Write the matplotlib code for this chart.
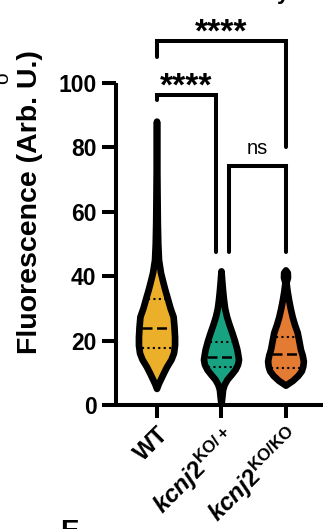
import numpy as np
import matplotlib
matplotlib.use("Agg")
import matplotlib.pyplot as plt
from matplotlib.patches import Polygon

plt.rcParams['font.family'] = ['Liberation Sans', 'DejaVu Sans']
plt.rcParams['mathtext.fontset'] = 'custom'
plt.rcParams['mathtext.it'] = 'Liberation Sans:bold:italic'
plt.rcParams['mathtext.rm'] = 'Liberation Sans:bold'
plt.rcParams['mathtext.bf'] = 'Liberation Sans:bold'

# ---------------- data ----------------
categories = ["WT", r"$\mathit{kcnj2}^{\mathrm{KO/+}}$", r"$\mathit{kcnj2}^{\mathrm{KO/KO}}$"]
colors = ["#EBAF2A", "#17A382", "#E37B33"]

# violin profiles: value levels and relative density (half width)
wt_levels = [5.0, 6.5, 7.8, 9.8, 11.8, 14.0, 16.0, 18.5, 21.0, 24.0, 27.3, 30.0, 33.0, 35.7, 38.5, 41.0, 45.0, 50.0, 56.5, 65.0, 75.0, 88.0]
wt_density = [0.0, 0.10, 0.21, 0.38, 0.56, 0.80, 0.94, 1.00, 1.00, 0.97, 0.92, 0.75, 0.60, 0.46, 0.33, 0.22, 0.11, 0.07, 0.045, 0.03, 0.015, 0.0]

het_levels = [0.0, 2.0, 4.7, 6.3, 7.8, 9.4, 10.9, 12.5, 14.0, 15.5, 17.1, 19.8, 22.4, 24.8, 27.3, 30.0, 32.6, 35.3, 37.9, 41.5]
het_density = [0.0, 0.04, 0.09, 0.18, 0.33, 0.57, 0.78, 0.92, 0.97, 0.93, 0.88, 0.75, 0.60, 0.45, 0.31, 0.20, 0.14, 0.09, 0.05, 0.0]

ko_levels = [6.0, 7.5, 9.0, 10.5, 12.0, 13.5, 15.3, 17.1, 19.8, 22.4, 24.8, 27.3, 30.0, 32.6, 35.3, 37.9, 39.5, 41.0, 41.8]
ko_density = [0.0, 0.39, 0.68, 0.88, 0.96, 0.99, 0.93, 0.83, 0.74, 0.65, 0.50, 0.37, 0.26, 0.17, 0.09, 0.03, 0.11, 0.10, 0.0]

medians = [23.8, 15.0, 15.8]
q1 = [17.6, 11.7, 11.4]
q3 = [32.8, 19.7, 21.0]

yticks = [0, 20, 40, 60, 80, 100]

# significance brackets: (x-left, x-right, y-left-leg-bottom, y-bar, y-right-leg-bottom, label)
brackets = [
    (0.0, 2.0, 108.0, 113.0, 80.0, "****"),
    (0.0, 0.915, 94.7, 96.3, 47.5, "****"),
    (1.116, 2.0, 47.5, 74.2, 47.5, "ns"),
]

# ---------------- figure ----------------
W, H = 323, 529
fig = plt.figure(figsize=(W / 100, H / 100), dpi=100)
ax = fig.add_axes([116 / W, 124 / H, 207 / W, 322 / H])
ax.set_xlim(-0.636, 2.574)
ax.set_ylim(0, 100)

half_max = 0.28
profiles = [(wt_levels, wt_density), (het_levels, het_density), (ko_levels, ko_density)]
for i, (lv, dn) in enumerate(profiles):
    lv = np.asarray(lv)
    dn = np.asarray(dn) * half_max
    xs = np.concatenate([i + dn, (i - dn)[::-1]])
    ys = np.concatenate([lv, lv[::-1]])
    poly = Polygon(np.column_stack([xs, ys]), closed=True, facecolor=colors[i],
                   edgecolor="black", linewidth=4.8, joinstyle="round", zorder=2)
    ax.add_patch(poly)
    # median and quartiles
    for val, style in [(medians[i], "dash"), (q1[i], "dot"), (q3[i], "dot")]:
        hw = np.interp(val, lv, dn) - 0.035
        if style == "dash":
            ax.plot([i - hw, i + hw], [val, val], color="black", lw=1.8,
                    dashes=(4.0, 1.8), zorder=3, dash_capstyle="butt")
        else:
            ax.plot([i - hw, i + hw], [val, val], color="black", lw=1.5,
                    dashes=(1.0, 1.6), zorder=3, dash_capstyle="butt")

# spines and ticks
for s in ["top", "right"]:
    ax.spines[s].set_visible(False)
for s in ["left", "bottom"]:
    ax.spines[s].set_linewidth(2.9)
    ax.spines[s].set_capstyle("butt")
ax.set_yticks(yticks)
ax.set_yticklabels([str(v) for v in yticks], fontsize=16.5, fontweight="bold")
ax.set_xticks(range(len(categories)))
ax.set_xticklabels(categories, fontsize=17.5, fontweight="bold", rotation=45,
                   ha="right", va="top", rotation_mode="anchor")
ax.tick_params(axis="y", length=10, width=2.9, pad=4)
ax.tick_params(axis="x", length=9.5, width=2.9, pad=3)

# brackets
for xl, xr, yl, yb, yr, lab in brackets:
    ax.plot([xl, xl, xr, xr], [yl, yb, yb, yr], color="black", lw=2.9,
            solid_capstyle="round", solid_joinstyle="miter", clip_on=False, zorder=4)
    xm = (xl + xr) / 2
    if lab == "ns":
        ax.text(xm, yb + 2.5, lab, ha="center", va="bottom", fontsize=14.5, clip_on=False)
    else:
        ax.text(xm, yb - 2.3, lab, ha="center", va="bottom", fontsize=24,
                fontweight="bold", clip_on=False)

# y label
fig.text(30 / W, 1 - 202 / H, "Fluorescence (Arb. U.)", rotation=90, ha="center",
         va="center", fontsize=20.5, fontweight="bold")

# fragments of neighbouring panels
fig.text(3 / W, 1 - 78 / H, "o", rotation=90, ha="center", va="center", fontsize=15)
fig.text(283 / W, 1 + 1.5 / H, "y", ha="center", va="baseline", fontsize=16, fontweight="bold")
fig.text(60 / W, 1 - 519 / H, "E", ha="left", va="top", fontsize=20, fontweight="bold")

fig.savefig("out.png", dpi=100)
